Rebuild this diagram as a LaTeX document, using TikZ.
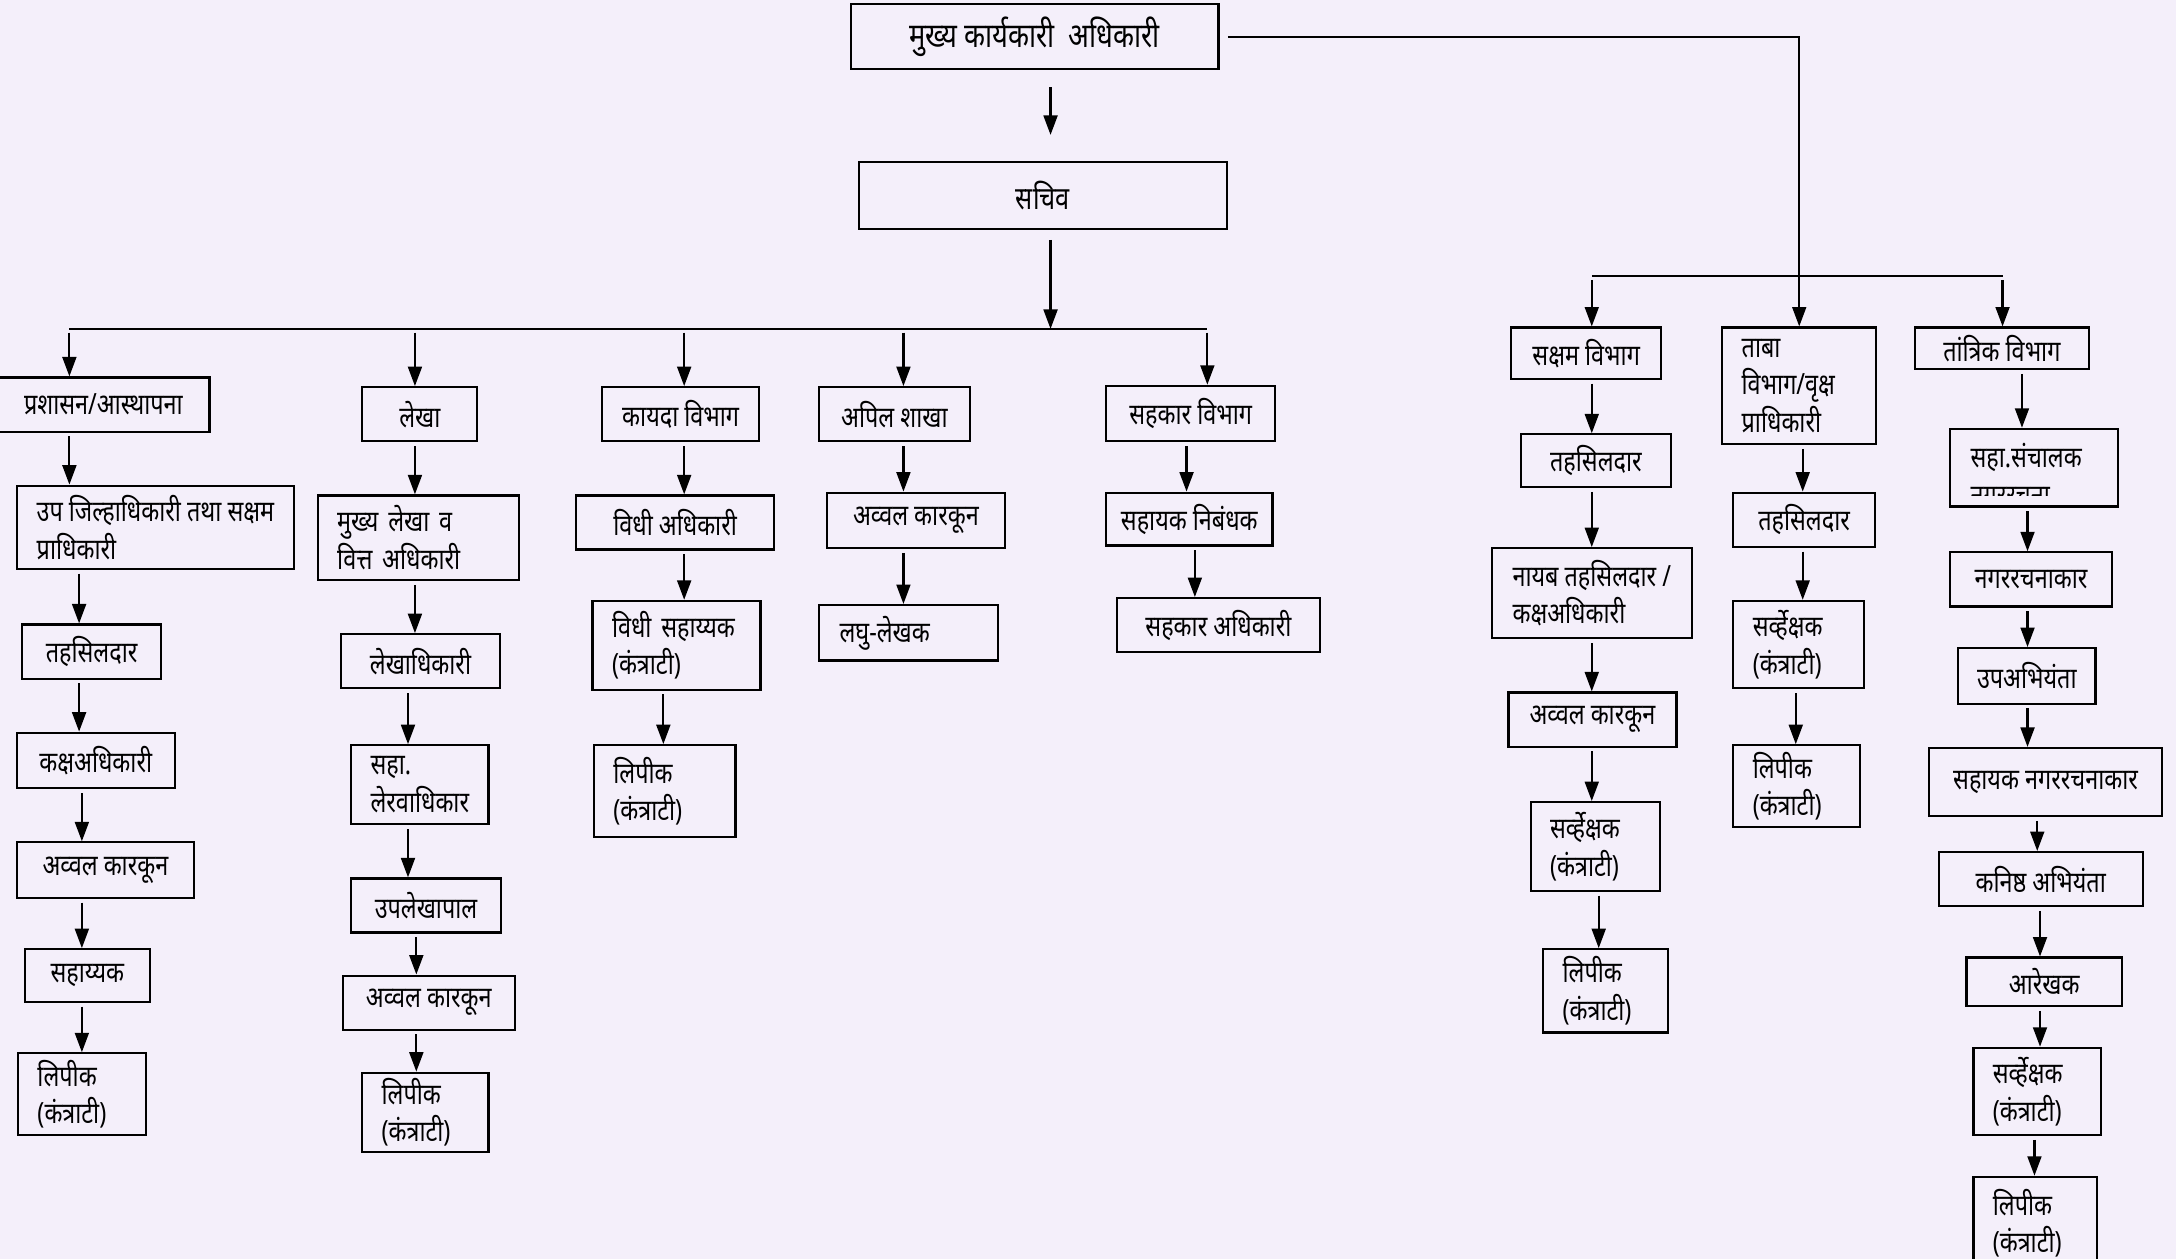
\documentclass[tikz,border=0pt]{standalone}
\usepackage{fontspec}
\newfontfamily\devfont[Script=Devanagari,FakeStretch=0.8]{Noto Sans}
\usetikzlibrary{arrows.meta,positioning}
\definecolor{paper}{RGB}{244,239,250}
\newcommand{\unitpx}{0.02cm}
\tikzset{
  obox/.style={draw, line width=0.9pt, inner sep=0pt, font=\devfont\fontsize{12}{15.4}\selectfont},
  mbox/.style={obox, align=left},
  lbox/.style={obox, align=left, text width=#1},
  arr/.style={-{Triangle[length=0.28cm,width=0.2cm]}, line width=0.9pt, shorten <=1.5pt},
  link/.style={line width=0.9pt}
}

\begin{document}
\begin{tikzpicture}[x=0.02cm, y=-0.02cm]
\fill[paper] (0,0) rectangle (1568,907);
\clip (0,0) rectangle (1568,907);

% Top
\node[obox, minimum width=265*\unitpx, minimum height=47*\unitpx, font=\devfont\bfseries\fontsize{14}{17}\selectfont] (ceo) at (745.5,26.5) {मुख्य कार्यकारी\ \ अधिकारी};
\node[obox, minimum width=265*\unitpx, minimum height=48*\unitpx, font=\devfont\bfseries\fontsize{13}{16}\selectfont] (sachiv) at (751.5,141) {सचिव};

% Prashasan column
\node[obox, minimum width=153*\unitpx, minimum height=39*\unitpx] (prash) at (74.5,291.5) {प्रशासन/आस्थापना};
\node[mbox, minimum width=200*\unitpx, minimum height=60*\unitpx] (upjil) at (112,380) {उप जिल्हाधिकारी तथा सक्षम\\प्राधिकारी};
\node[obox, minimum width=100*\unitpx, minimum height=39*\unitpx] (tah1) at (66,469.5) {तहसिलदार};
\node[obox, minimum width=114*\unitpx, minimum height=40*\unitpx] (kaksh1) at (69,548) {कक्षअधिकारी};
\node[obox, minimum width=128*\unitpx, minimum height=40*\unitpx] (avval1) at (76,627) {अव्वल कारकून};
\node[obox, minimum width=90*\unitpx, minimum height=38*\unitpx] (sahayyak) at (63,703) {सहाय्यक};
\node[lbox=1.28cm, minimum width=92*\unitpx, minimum height=59*\unitpx] (lipik1) at (59,788.5) {लिपीक\\(कंत्राटी)};

% Lekha column
\node[obox, minimum width=83*\unitpx, minimum height=39*\unitpx] (lekha) at (302.5,298.5) {लेखा};
\node[lbox=2.34cm, minimum width=145*\unitpx, minimum height=61*\unitpx] (mukhyalekha) at (301.5,387.5) {मुख्य लेखा व\\वित्त अधिकारी};
\node[obox, minimum width=114*\unitpx, minimum height=39*\unitpx] (lekhadhi) at (303,476.5) {लेखाधिकारी};
\node[lbox=1.42cm, minimum width=99*\unitpx, minimum height=57*\unitpx] (sahalekha) at (302.5,565.5) {सहा.\\लेरवाधिकार};
\node[obox, minimum width=108*\unitpx, minimum height=39*\unitpx] (uplekha) at (307,652.5) {उपलेखापाल};
\node[obox, minimum width=124*\unitpx, minimum height=39*\unitpx] (avval2) at (309,722.5) {अव्वल कारकून};
\node[lbox=1.26cm, minimum width=91*\unitpx, minimum height=57*\unitpx] (lipik2) at (306.5,801.5) {लिपीक\\(कंत्राटी)};

% Kayda column
\node[obox, minimum width=113*\unitpx, minimum height=39*\unitpx] (kayda) at (490.5,298.5) {कायदा विभाग};
\node[obox, minimum width=143*\unitpx, minimum height=39*\unitpx] (vidhi) at (486.5,376.5) {विधी अधिकारी};
\node[lbox=1.86cm, minimum width=121*\unitpx, minimum height=64*\unitpx] (vidhisah) at (487.5,465) {विधी सहाय्यक\\(कंत्राटी)};
\node[lbox=1.48cm, minimum width=102*\unitpx, minimum height=66*\unitpx] (lipik3) at (479,570) {लिपीक\\(कंत्राटी)};

% Apil column
\node[obox, minimum width=109*\unitpx, minimum height=39*\unitpx] (apil) at (644.5,298.5) {अपिल शाखा};
\node[obox, minimum width=128*\unitpx, minimum height=40*\unitpx] (avval3) at (660,375) {अव्वल कारकून};
\node[lbox=1.98cm, minimum width=129*\unitpx, minimum height=40*\unitpx] (laghu) at (654.5,456) {लघु-लेखक};

% Sahakar column
\node[obox, minimum width=122*\unitpx, minimum height=40*\unitpx] (sahakar) at (858,298) {सहकार विभाग};
\node[obox, minimum width=120*\unitpx, minimum height=38*\unitpx] (nibandhak) at (857,374) {सहायक निबंधक};
\node[obox, minimum width=146*\unitpx, minimum height=39*\unitpx] (sahakaradhi) at (878,450.5) {सहकार अधिकारी};

% Saksham column
\node[obox, minimum width=108*\unitpx, minimum height=37*\unitpx] (saksham) at (1143,254.5) {सक्षम विभाग};
\node[obox, minimum width=108*\unitpx, minimum height=38*\unitpx] (tah2) at (1150,332) {तहसिलदार};
\node[mbox, minimum width=144*\unitpx, minimum height=65*\unitpx] (nayab) at (1147,427.5) {नायब तहसिलदार /\\कक्षअधिकारी};
\node[obox, minimum width=121*\unitpx, minimum height=39*\unitpx] (avval4) at (1147.5,518.5) {अव्वल कारकून};
\node[lbox=1.30cm, minimum width=93*\unitpx, minimum height=64*\unitpx] (sarv1) at (1149.5,610) {सर्व्हेक्षक\\(कंत्राटी)};
\node[lbox=1.24cm, minimum width=90*\unitpx, minimum height=60*\unitpx] (lipik4) at (1157,714) {लिपीक\\(कंत्राटी)};

% Taba column
\node[lbox=1.66cm, minimum width=111*\unitpx, minimum height=84*\unitpx] (taba) at (1296.5,278) {ताबा\\विभाग/वृक्ष\\प्राधिकारी};
\node[obox, minimum width=102*\unitpx, minimum height=39*\unitpx] (tah3) at (1300,374.5) {तहसिलदार};
\node[lbox=1.32cm, minimum width=94*\unitpx, minimum height=63*\unitpx] (sarv2) at (1296,464.5) {सर्व्हेक्षक\\(कंत्राटी)};
\node[lbox=1.26cm, minimum width=91*\unitpx, minimum height=59*\unitpx] (lipik5) at (1294.5,566.5) {लिपीक\\(कंत्राटी)};

% Tantrik column
\node[obox, minimum width=125*\unitpx, minimum height=30*\unitpx] (tantrik) at (1442.5,251) {तांत्रिक विभाग};
\node[obox, minimum width=121*\unitpx, minimum height=56*\unitpx] (sahasanchalak) at (1465.5,337) {};
\begin{scope}
\clip (1405,309) rectangle (1526,357);
\node[lbox=1.82cm, draw=none] (sahasanchalaktxt) at (1465.5,342) {सहा.संचालक\\नगररचना};
\end{scope}
\node[obox, minimum width=117*\unitpx, minimum height=39*\unitpx] (nagarrachnakar) at (1463.5,417.5) {नगररचनाकार};
\node[obox, minimum width=99*\unitpx, minimum height=40*\unitpx] (upabhiyanta) at (1460.5,487) {उपअभियंता};
\node[obox, minimum width=168*\unitpx, minimum height=49*\unitpx] (sahnagar) at (1474,563.5) {सहायक नगररचनाकार};
\node[obox, minimum width=147*\unitpx, minimum height=39*\unitpx] (kanishtha) at (1470.5,633.5) {कनिष्ठ अभियंता};
\node[obox, minimum width=112*\unitpx, minimum height=35*\unitpx] (arekhak) at (1473,707.5) {आरेखक};
\node[lbox=1.28cm, minimum width=92*\unitpx, minimum height=63*\unitpx] (sarv3) at (1468,786.5) {सर्व्हेक्षक\\(कंत्राटी)};
\node[lbox=1.22cm, minimum width=89*\unitpx, minimum height=67*\unitpx] (lipik6) at (1466.5,881.5) {लिपीक\\(कंत्राटी)};

% Top connectors
\draw[arr, shorten <=0.24cm, shorten >=0.38cm] (ceo.south -| 757,0) -- (sachiv.north -| 757,0);
\coordinate (busL) at (50,237);
\coordinate (busR) at (870,237);
\draw[arr, shorten <=0.14cm] (sachiv.south -| 757,0) -- (busL -| 757,0);
\draw[link] (busL) -- (busR);
\draw[arr] (busL) -- (prash.north -| busL);
\foreach \dept/\x in {lekha/299, kayda/493, apil/651}
  \draw[arr] (busL -| \x,0) -- (\dept.north -| \x,0);
\draw[arr] (busR) -- (sahakar.north -| busR);

% Right branch
\draw[arr, shorten <=0.12cm] (ceo.east) -| (taba.north);
\coordinate (rbusL) at (1147,199);
\coordinate (rbusR) at (1443,199);
\draw[link] (rbusL) -- (rbusR);
\draw[arr] (rbusL) -- (saksham.north -| rbusL);
\draw[arr] (rbusR) -- (tantrik.north -| rbusR);

% Chains
\foreach \a/\b/\x in {prash/upjil/50, upjil/tah1/57, tah1/kaksh1/57, kaksh1/avval1/59, avval1/sahayyak/59, sahayyak/lipik1/59,
    lekha/mukhyalekha/299, mukhyalekha/lekhadhi/299, lekhadhi/sahalekha/294, sahalekha/uplekha/294, uplekha/avval2/300, avval2/lipik2/300,
    kayda/vidhi/493, vidhi/vidhisah/493, vidhisah/lipik3/478,
    apil/avval3/651, avval3/laghu/651,
    sahakar/nibandhak/855, nibandhak/sahakaradhi/861,
    saksham/tah2/1147, tah2/nayab/1147, nayab/avval4/1147, avval4/sarv1/1147, sarv1/lipik4/1152,
    taba/tah3/1299, tah3/sarv2/1299, sarv2/lipik5/1294,
    tantrik/sahasanchalak/1457, sahasanchalak/nagarrachnakar/1461, nagarrachnakar/upabhiyanta/1461, upabhiyanta/sahnagar/1461,
    sahnagar/kanishtha/1468, kanishtha/arekhak/1470, arekhak/sarv3/1470, sarv3/lipik6/1466}
  \draw[arr] (\a.south -| \x,0) -- (\b.north -| \x,0);
\end{tikzpicture}
\end{document}
